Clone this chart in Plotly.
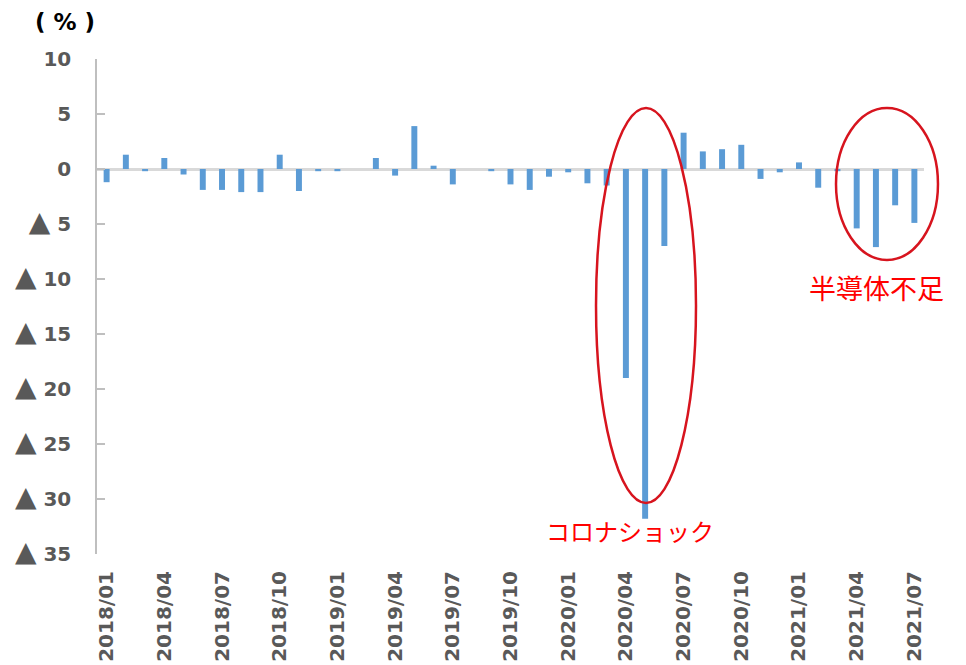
import plotly.graph_objects as go

# Monthly change (%) from 2018/01 to 2021/07
months = [f"{y}/{m:02d}" for y in (2018, 2019, 2020, 2021) for m in range(1, 13)][:43]
values = [
    -1.2, 1.3, -0.2, 1.0, -0.5, -1.9, -1.9, -2.1, -2.1, 1.3, -2.0, -0.2,   # 2018
    -0.2, 0.0, 1.0, -0.6, 3.9, 0.3, -1.4, 0.0, -0.2, -1.4, -1.9, -0.7,    # 2019
    -0.3, -1.3, -1.5, -19.0, -31.8, -7.0, 3.3, 1.6, 1.8, 2.2, -0.9, -0.3, # 2020
    0.6, -1.7, -0.2, -5.4, -7.1, -3.3, -4.9,                              # 2021
]
x_ticks = months[::3]
y_ticks = [10, 5, 0, -5, -10, -15, -20, -25, -30, -35]
tri = "<span style='font-size:28px'>▲</span>"
y_ticktext = [str(v) if v >= 0 else f"{tri} {abs(v)}" for v in y_ticks]

x_font = dict(family="DejaVu Sans", size=20, color="#595959", weight="bold")
y_font = dict(family="DejaVu Sans", size=20, color="#595959", weight="bold")
red = "#d7141e"

fig = go.Figure(
    go.Bar(
        x=months,
        y=values,
        marker=dict(color="#5b9bd5", line=dict(width=0)),
        width=0.31,
    )
)

fig.update_layout(
    width=966,
    height=665,
    margin=dict(l=97, r=42, t=59, b=111, autoexpand=False),
    paper_bgcolor="white",
    plot_bgcolor="white",
    showlegend=False,
)

fig.update_xaxes(
    type="category",
    tickmode="array",
    tickvals=x_ticks,
    ticktext=x_ticks,
    tickangle=-90,
    tickfont=x_font,
    ticks="",
    showgrid=False,
    showline=False,
    zeroline=False,
    ticklabelstandoff=12,
    automargin=False,
)

fig.update_yaxes(
    range=[-35, 10],
    tickmode="array",
    tickvals=y_ticks,
    ticktext=y_ticktext,
    tickfont=y_font,
    ticks="inside",
    ticklen=8,
    tickwidth=1.5,
    tickcolor="#bfbfbf",
    showline=True,
    linecolor="#bfbfbf",
    linewidth=1.5,
    showgrid=False,
    zeroline=True,
    zerolinecolor="#d9d9d9",
    zerolinewidth=3,
    ticklabelstandoff=20,
    automargin=False,
)

# Highlight ellipses
fig.add_shape(type="circle", xref="paper", yref="paper",
              x0=0.6034, x1=0.7243, y0=0.103, y1=0.901,
              line=dict(color=red, width=2.5))
fig.add_shape(type="circle", xref="paper", yref="paper",
              x0=0.8936, x1=1.0169, y0=0.594, y1=0.901,
              line=dict(color=red, width=2.5))

fig.add_annotation(text="コロナショック", xref="paper", yref="paper",
                   x=0.6445, y=0.0465, xanchor="center", yanchor="middle",
                   showarrow=False,
                   font=dict(family="Noto Sans CJK JP", size=24, color="#ff0000"))
fig.add_annotation(text="半導体不足", xref="paper", yref="paper",
                   x=0.943, y=0.539, xanchor="center", yanchor="middle",
                   showarrow=False,
                   font=dict(family="Noto Sans CJK JP", size=27, color="#ff0000"))
fig.add_annotation(text="( % )", xref="paper", yref="paper",
                   x=(65 - 97) / 827, y=(554 - 22) / 495,
                   xanchor="center", yanchor="middle", showarrow=False,
                   font=dict(family="DejaVu Sans", size=23, color="#000000", weight="bold"))

fig.write_html("out.html")
